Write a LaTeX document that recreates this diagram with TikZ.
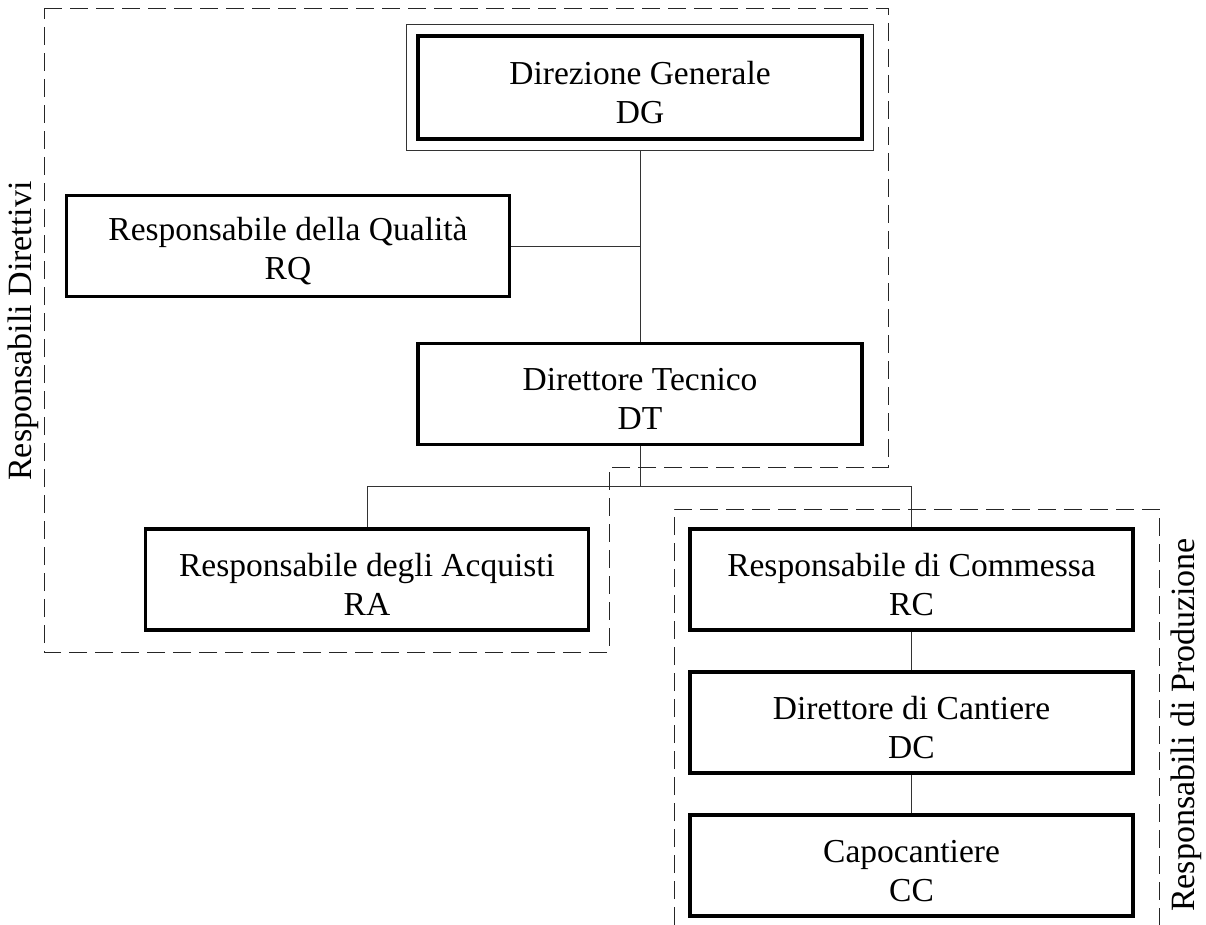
\documentclass[tikz,border=0pt]{standalone}
\usepackage{fontspec}
\setmainfont{Liberation Serif}
\newcommand{\lift}{\rule{0pt}{33pt}}
\begin{document}
\begin{tikzpicture}[x=1pt,y=-1pt,
  box/.style={draw=black, line width=3.5pt, rectangle, minimum width=443pt, minimum height=101pt,
    align=center, font=\fontsize{33.5}{39}\selectfont, inner sep=0pt},
  conn/.style={draw=black!80, line width=1pt},
  region/.style={draw=black!85, line width=1pt, dash pattern=on 18pt off 8pt},
  grouplabel/.style={font=\fontsize{34}{39}\selectfont, rotate=90, inner sep=0pt}]
\useasboundingbox (0,0) rectangle (1206,925);

\node[box, minimum width=444pt, minimum height=103pt] (DG) at (640,87.5) {\lift Direzione Generale\\DG};
\draw[line width=1pt, draw=black!80] ([shift={(-10,-10)}]DG.north west) rectangle ([shift={(10,10)}]DG.south east);
\node[box] (RQ) at (288,246) {\lift Responsabile della Qualità\\RQ};
\node[box, minimum width=444pt] (DT) at (640,394) {\lift Direttore Tecnico\\DT};
\node[box] (RA) at (367,579.5) {\lift Responsabile degli Acquisti\\RA};
\node[box] (RC) at (911.5,579.5) {\lift Responsabile di Commessa\\RC};
\node[box] (DC) at (911.5,722.5) {\lift Direttore di Cantiere\\DC};
\node[box] (CC) at (911.5,865.5) {\lift Capocantiere\\CC};

\coordinate (J) at (640,486.5);

\draw[conn] ([shift={(0,10)}]DG.south) -- (DT.north);
\draw[conn] (RQ.east) -- (RQ.east -| DT.north);
\draw[conn] (DT.south) -- (J);
\draw[conn] (RA.north) -- (RA.north |- J) -- (RC.north |- J) -- (RC.north);
\draw[conn] (RC.south) -- (DC.north);
\draw[conn] (DC.south) -- (CC.north);

\draw[region] (44,9) -- (888,9) -- (888,467) -- (609,467) -- (609,652) -- (44,652) -- cycle;
\draw[region] (674,925) -- (674,509) -- (1159,509) -- (1159,925);

\node[grouplabel] (GL1) at (23,331) {Responsabili Direttivi};
\node[grouplabel] (GL2) at (1186,725) {Responsabili di Produzione};
\end{tikzpicture}
\end{document}
